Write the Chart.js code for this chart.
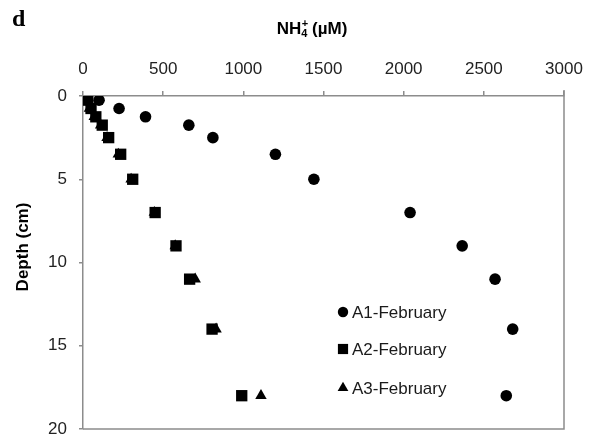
<!DOCTYPE html>
<html>
<head>
<meta charset="utf-8">
<script src="https://cdn.jsdelivr.net/npm/chart.js@4.4.0/dist/chart.umd.min.js"></script>
<style>
  html, body { margin: 0; padding: 0; background: #fff; }
  #wrap { width: 589px; height: 437px; }
</style>
</head>
<body>
<div id="wrap"><canvas id="myChart" width="589" height="437"></canvas></div>
<script>
// depth profile, cm
const depths = [0.25, 0.75, 1.25, 1.75, 2.5, 3.5, 5, 7, 9, 11, 14, 18];
// NH4+ concentrations, uM
const a1Feb = [100, 225, 390, 660, 810, 1200, 1440, 2040, 2365, 2570, 2680, 2640];
const a2Feb = [30, 50, 80, 120, 160, 235, 310, 450, 580, 665, 805, 990];
const a3Feb = [5, 40, 70, 110, 150, 220, 300, 445, 575, 700, 830, 1110];
const seriesNames = ['A1-February', 'A2-February', 'A3-February'];
const xTicks = [0, 500, 1000, 1500, 2000, 2500, 3000];
const yTicks = [0, 5, 10, 15, 20];

function pairs(vals){
    return vals.map(function(v, i){ return {x: v, y: depths[i]}; });
}

const axisGrey = '#8c8c8c';
const font = 'Arial, "Liberation Sans", sans-serif';

// box lines, panel letter, axis titles, inner legend
const extras = {
    id: 'extras',
    afterDraw: function(chart){
        const ctx = chart.ctx;
        const a = chart.chartArea;
        ctx.save();
        ctx.strokeStyle = axisGrey;
        ctx.lineWidth = 1.5;
        ctx.beginPath();
        ctx.moveTo(a.right, a.top - 6);
        ctx.lineTo(a.right, a.bottom);
        ctx.lineTo(a.left, a.bottom);
        ctx.stroke();

        ctx.fillStyle = '#000';
        ctx.font = 'bold 24px "Liberation Serif", "Times New Roman", serif';
        ctx.textBaseline = 'alphabetic';
        ctx.fillText('d', 12, 26);

        // NH4+ (uM)
        const big = 'bold 17px ' + font;
        const small = 'bold 11px ' + font;
        ctx.font = big;
        const w1 = ctx.measureText('NH').width;
        const w3 = ctx.measureText(' (\u00b5M)').width;
        ctx.font = small;
        const w2 = ctx.measureText('4').width;
        let x = 312 - (w1 + w2 + w3) / 2;
        const base = 34;
        ctx.font = big;
        ctx.fillText('NH', x, base);
        x += w1;
        ctx.font = small;
        ctx.fillText('4', x, base + 3);
        ctx.fillText('+', x + 0.5, base - 7);
        x += w2;
        ctx.font = big;
        ctx.fillText(' (\u00b5M)', x, base);

        // Depth (cm)
        ctx.save();
        ctx.translate(23, 247);
        ctx.rotate(-Math.PI / 2);
        ctx.font = 'bold 17px ' + font;
        ctx.textAlign = 'center';
        ctx.textBaseline = 'middle';
        ctx.fillText('Depth (cm)', 0, 0);
        ctx.restore();

        // legend
        ctx.font = '17px ' + font;
        ctx.textBaseline = 'middle';
        const rows = [312, 349, 388];
        const sizes = [5.2, 7.2, 6.2];
        chart.data.datasets.forEach(function(ds, i){
            ctx.fillStyle = '#000';
            Chart.helpers.drawPoint(ctx, {
                pointStyle: ds.pointStyle,
                radius: sizes[i],
                borderWidth: 0
            }, 343, rows[i]);
            ctx.fillStyle = '#1a1a1a';
            ctx.fillText(ds.label, 352, rows[i] + 1);
        });
        ctx.restore();
    }
};

const ctx = document.getElementById('myChart').getContext('2d');
const myChart = new Chart(ctx, {
    type: 'scatter',
    data: {
        datasets: [{
            label: seriesNames[0],
            data: pairs(a1Feb),
            pointStyle: 'circle',
            pointRadius: 5.8,
            backgroundColor: '#000',
            borderColor: '#000',
            borderWidth: 0
        }, {
            label: seriesNames[1],
            data: pairs(a2Feb),
            pointStyle: 'rect',
            pointRadius: 8,
            backgroundColor: '#000',
            borderColor: '#000',
            borderWidth: 0
        }, {
            label: seriesNames[2],
            data: pairs(a3Feb),
            pointStyle: 'triangle',
            pointRadius: 6.6,
            backgroundColor: '#000',
            borderColor: '#000',
            borderWidth: 0
        }]
    },
    options: {
        responsive: false,
        animation: false,
        layout: { padding: { left: 0, right: 25, top: 0, bottom: 8 } },
        plugins: {
            legend: { display: false },
            tooltip: { enabled: false }
        },
        scales: {
            x: {
                type: 'linear',
                position: 'top',
                min: 0,
                max: 3000,
                afterBuildTicks: function(axis){
                    axis.ticks = xTicks.map(function(v){ return {value: v}; });
                },
                afterFit: function(axis){
                    axis.height = 96;
                    axis.paddingLeft = 0;
                    axis.paddingRight = 0;
                },
                grid: { drawOnChartArea: false, drawTicks: true, tickLength: 5, color: axisGrey, lineWidth: 1.5 },
                border: { display: true, color: axisGrey, width: 1.5 },
                ticks: {
                    color: '#222',
                    font: { family: font, size: 17 },
                    padding: 11,
                    maxRotation: 0,
                    callback: function(v){ return String(v); }
                }
            },
            y: {
                type: 'linear',
                reverse: true,
                min: 0,
                max: 20,
                afterBuildTicks: function(axis){
                    axis.ticks = yTicks.map(function(v){ return {value: v}; });
                },
                afterFit: function(axis){
                    axis.width = 83;
                    axis.paddingTop = 0;
                    axis.paddingBottom = 0;
                },
                grid: { drawOnChartArea: false, drawTicks: true, tickLength: 4, color: axisGrey, lineWidth: 1.5 },
                border: { display: true, color: axisGrey, width: 1.5 },
                ticks: {
                    color: '#222',
                    font: { family: font, size: 17 },
                    padding: 12,
                    callback: function(v){ return String(v); }
                }
            }
        }
    },
    plugins: [extras]
});
</script>
</body>
</html>
